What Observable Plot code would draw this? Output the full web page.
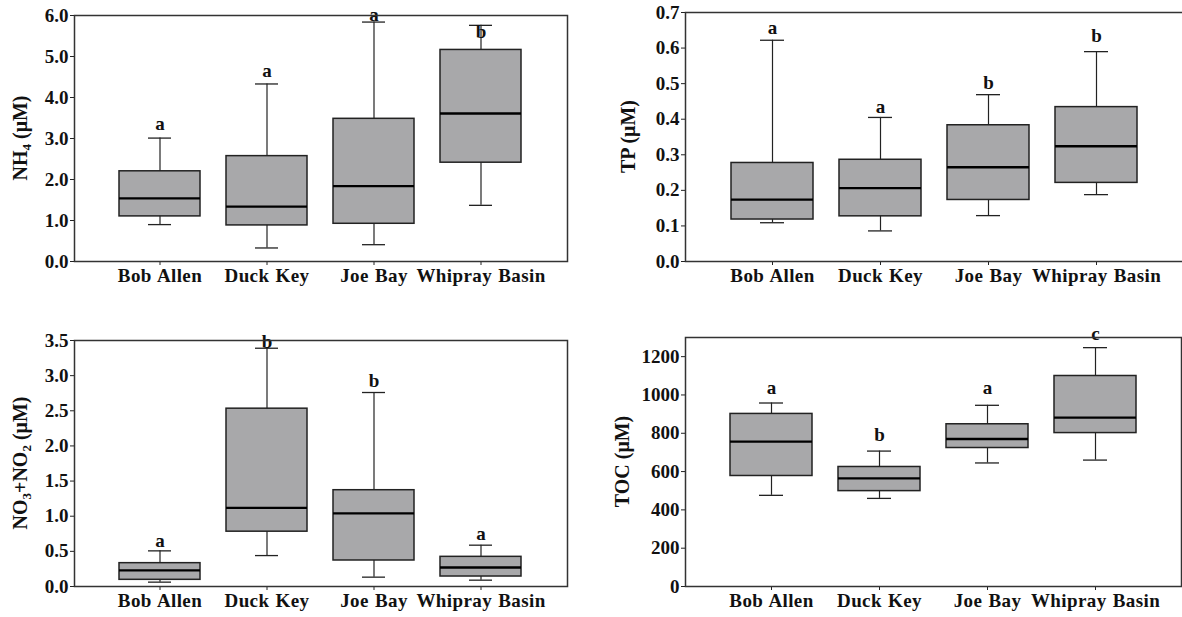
<!DOCTYPE html>
<html>
<head>
<meta charset="utf-8">
<script src="https://cdn.jsdelivr.net/npm/d3@7"></script>
<script src="https://cdn.jsdelivr.net/npm/@observablehq/plot@0.6"></script>
<style>
  body { margin: 0; background: #fff; }
  #root { position: relative; width: 1182px; height: 617px; overflow: hidden; background: #fff; }
  .panel { position: absolute; }
  .panel svg { max-width: none !important; }
</style>
</head>
<body>
<div id="root"></div>
<script>
// ---------- DATA ----------
const sites = ["Bob Allen", "Duck Key", "Joe Bay", "Whipray Basin"];

// NH4 (µM)
const nh4Min    = [0.90, 0.33, 0.41, 1.37];
const nh4Q1     = [1.10, 0.88, 0.92, 2.41];
const nh4Median = [1.54, 1.34, 1.84, 3.61];
const nh4Q3     = [2.20, 2.57, 3.48, 5.16];
const nh4Max    = [3.01, 4.33, 5.84, 5.76];
const nh4Letters = ["a", "a", "a", "b"];
const nh4LetterY = [3.20, 4.51, 5.86, 5.45];
const nh4Ticks = [0, 1, 2, 3, 4, 5, 6];

// TP (µM)
const tpMin    = [0.109, 0.086, 0.129, 0.188];
const tpQ1     = [0.118, 0.127, 0.173, 0.221];
const tpMedian = [0.174, 0.206, 0.265, 0.324];
const tpQ3     = [0.277, 0.286, 0.383, 0.434];
const tpMax    = [0.622, 0.405, 0.469, 0.590];
const tpLetters = ["a", "a", "b", "b"];
const tpLetterY = [0.639, 0.417, 0.485, 0.616];
const tpTicks = [0, 0.1, 0.2, 0.3, 0.4, 0.5, 0.6, 0.7];

// NO3+NO2 (µM)
const noxMin    = [0.062, 0.44, 0.133, 0.09];
const noxQ1     = [0.095, 0.78, 0.37, 0.142];
const noxMedian = [0.228, 1.12, 1.04, 0.27];
const noxQ3     = [0.332, 2.53, 1.37, 0.422];
const noxMax    = [0.507, 3.39, 2.76, 0.588];
const noxLetters = ["a", "b", "b", "a"];
const noxLetterY = [0.569, 3.395, 2.845, 0.664];
const noxTicks = [0, 0.5, 1.0, 1.5, 2.0, 2.5, 3.0, 3.5];

// TOC (µM)
const tocMin    = [476, 460, 645, 660];
const tocQ1     = [577, 498, 723, 801];
const tocMedian = [756, 564, 770, 882];
const tocQ3     = [901, 624, 847, 1099];
const tocMax    = [958, 707, 946, 1247];
const tocLetters = ["a", "b", "a", "c"];
const tocLetterY = [1003, 760, 1003, 1289];
const tocTicks = [0, 200, 400, 600, 800, 1000, 1200];

// ---------- DRAWING ----------
const FONT = "Liberation Serif, Times New Roman, Times, serif";
const BOX_FILL = "#a8a8aa";
const INK = "#222";

function table(min, q1, med, q3, max, letters, letterY) {
  return sites.map((s, i) => ({
    site: s, min: min[i], q1: q1[i], median: med[i], q3: q3[i], max: max[i],
    letter: letters[i], letterY: letterY[i]
  }));
}

function panel({data, domain, ticks, fmt, labelParts, left, top, width, height,
                margins, labelX}) {
  const [mt, mr, mb, ml] = margins;
  const txt = {fontFamily: FONT, fontSize: 19, fontWeight: "bold"};
  const svg = Plot.plot({
    width, height,
    marginTop: mt, marginRight: mr, marginBottom: mb, marginLeft: ml,
    style: {fontFamily: FONT, fontSize: "19px", fontWeight: "bold", color: "#111",
            background: "transparent", overflow: "visible", maxWidth: "none"},
    x: {type: "band", domain: sites, paddingInner: 0.24, paddingOuter: 0.41, label: null},
    y: {domain, label: null},
    marks: [
      Plot.axisX({tickSize: 4, tickPadding: 3, label: null, stroke: INK, fill: "#111", ...txt}),
      Plot.axisY({ticks, tickFormat: fmt, tickSize: 4, tickPadding: 2, label: null,
                  stroke: INK, fill: "#111", ...txt}),
      Plot.ruleX(data, {x: "site", y1: "min", y2: "max", stroke: INK, strokeWidth: 1.2}),
      Plot.tickY(data, {x: "site", y: "min", stroke: INK, strokeWidth: 1.3, insetLeft: 29, insetRight: 29}),
      Plot.tickY(data, {x: "site", y: "max", stroke: INK, strokeWidth: 1.3, insetLeft: 29, insetRight: 29}),
      Plot.barY(data, {x: "site", y1: "q1", y2: "q3", fill: BOX_FILL, stroke: INK, strokeWidth: 1.5}),
      Plot.tickY(data, {x: "site", y: "median", stroke: "#000", strokeWidth: 2.3}),
      Plot.text(data, {x: "site", y: "letterY", text: "letter", lineAnchor: "bottom",
                       fill: "#111", ...txt}),
      Plot.frame({stroke: "#333", strokeWidth: 1.5})
    ]
  });
  const s = d3.select(svg);
  s.style("max-width", "none").style("width", width + "px").style("height", height + "px");
  s.attr("font-family", FONT).attr("font-weight", "bold").attr("font-size", 19);
  s.selectAll("text").style("font-family", FONT).style("font-weight", "bold");
  s.selectAll("g[aria-label='x-axis tick label'] text")
    .style("font-size", "19px").style("letter-spacing", "0.4px").style("word-spacing", "1px");
  s.selectAll("g[aria-label='y-axis tick label'] text").style("font-size", "19px");
  // rotated y-axis title with subscripts
  const cy = mt + (height - mt - mb) / 2;
  const t = s.append("text")
    .attr("transform", `translate(${labelX},${cy}) rotate(-90)`)
    .attr("text-anchor", "middle")
    .attr("fill", "#111")
    .style("font-family", FONT).style("font-weight", "bold").style("font-size", "20px");
  let shifted = false;
  labelParts.forEach(p => {
    const ts = t.append("tspan").text(p.t);
    if (p.sub) { ts.attr("font-size", "13px").attr("dy", shifted ? null : 4); shifted = true; }
    else if (shifted) { ts.attr("dy", -4); shifted = false; }
  });
  const div = document.createElement("div");
  div.className = "panel";
  div.style.left = left + "px";
  div.style.top = top + "px";
  div.style.width = width + "px";
  div.style.height = height + "px";
  div.appendChild(svg);
  document.getElementById("root").appendChild(div);
}

const f1 = d => d.toFixed(1);

panel({
  data: table(nh4Min, nh4Q1, nh4Median, nh4Q3, nh4Max, nh4Letters, nh4LetterY),
  domain: [0, 6], ticks: nh4Ticks, fmt: f1,
  labelParts: [{t: "NH"}, {t: "4", sub: true}, {t: " (μM)"}],
  left: 0, top: 0, width: 591, height: 305, margins: [15, 24, 44, 74], labelX: 27
});

panel({
  data: table(tpMin, tpQ1, tpMedian, tpQ3, tpMax, tpLetters, tpLetterY),
  domain: [0, 0.7], ticks: tpTicks, fmt: f1,
  labelParts: [{t: "TP (μM)"}],
  left: 591, top: 0, width: 600, height: 305, margins: [12, 7, 44, 94], labelX: 44
});

panel({
  data: table(noxMin, noxQ1, noxMedian, noxQ3, noxMax, noxLetters, noxLetterY),
  domain: [0, 3.5], ticks: noxTicks, fmt: f1,
  labelParts: [{t: "NO"}, {t: "3", sub: true}, {t: "+NO"}, {t: "2", sub: true}, {t: " (μM)"}],
  left: 0, top: 305, width: 591, height: 312, margins: [35, 24, 31, 74], labelX: 27
});

panel({
  data: table(tocMin, tocQ1, tocMedian, tocQ3, tocMax, tocLetters, tocLetterY),
  domain: [0, 1300], ticks: tocTicks, fmt: d => String(d),
  labelParts: [{t: "TOC (μM)"}],
  left: 591, top: 305, width: 591, height: 312, margins: [32, 1, 31, 94], labelX: 38
});
</script>
</body>
</html>
